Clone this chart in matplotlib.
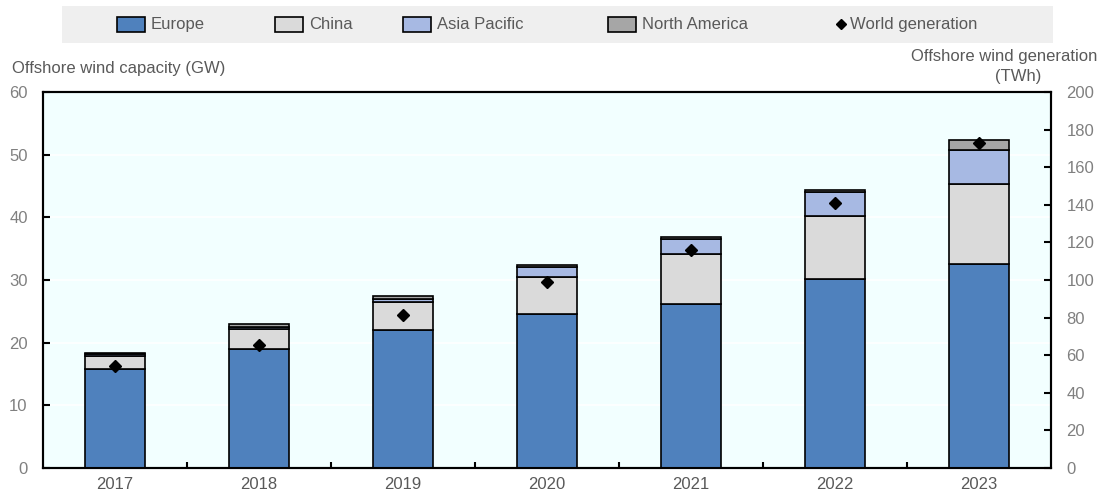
import matplotlib
matplotlib.use("Agg")
import matplotlib.pyplot as plt
from matplotlib.patches import Rectangle
from matplotlib.lines import Line2D
import numpy as np

plt.rcParams['font.family'] = ['Liberation Sans', 'DejaVu Sans']

years = ["2017", "2018", "2019", "2020", "2021", "2022", "2023"]
europe = [15.7, 19.0, 22.0, 24.5, 26.2, 30.2, 32.6]
china = [2.1, 3.1, 4.5, 6.0, 8.0, 10.0, 12.7]
asia_pacific = [0.3, 0.4, 0.5, 1.5, 2.3, 3.8, 5.4]
north_america = [0.3, 0.4, 0.5, 0.4, 0.4, 0.4, 1.6]
world_generation = [54.4, 65.6, 81.6, 98.8, 115.9, 141.2, 173.2]

series = [("Europe", europe, "#4F81BD"),
          ("China", china, "#DADADA"),
          ("Asia Pacific", asia_pacific, "#A7B9E3"),
          ("North America", north_america, "#A6A6A6")]

W, H = 1099, 494
fig = plt.figure(figsize=(W / 100, H / 100), dpi=100)
ax = fig.add_axes([43 / W, 26.3 / H, 1008 / W, 375.4 / H])
ax.set_facecolor("#F2FFFF")
x = np.arange(len(years))
bottom = np.zeros(len(years))
for name, vals, col in series:
    ax.bar(x, vals, 0.41, bottom=bottom, color=col, edgecolor="black", linewidth=1.2, zorder=3)
    bottom += np.array(vals)

ax.set_ylim(0, 60)
ax.set_xlim(-0.5, len(years) - 0.5)
ax.set_yticks(range(0, 61, 10))
ax.yaxis.grid(True, color="white", linewidth=1.2, zorder=0)
ax.set_xticks(x)
ax.set_xticklabels(years)
ax.set_xticks(np.arange(0.5, len(years) - 0.5, 1), minor=True)
ax.tick_params(axis="x", which="major", length=0, pad=7, colors="#595959", labelsize=12)
ax.tick_params(axis="x", which="minor", length=4, direction="in", width=1.5)
ax.tick_params(axis="y", direction="in", length=5, width=1.5, labelcolor="#808080", labelsize=12, pad=11)
for s in ax.spines.values():
    s.set_linewidth(1.5)

ax2 = ax.twinx()
ax2.set_ylim(0, 200)
ax2.set_yticks(range(0, 201, 20))
ax2.plot(x, world_generation, linestyle="none", marker="D", color="black", markersize=6.5, zorder=5)
ax2.tick_params(axis="y", direction="in", length=5, width=1.5, labelcolor="#808080", labelsize=12, pad=11)
for s in ax2.spines.values():
    s.set_linewidth(1.5)

def fx(px):
    return px / W

def fy(py):
    return 1 - py / H

fig.text(fx(12), fy(68), "Offshore wind capacity (GW)", fontsize=12, color="#595959", ha="left", va="center")
fig.text(fx(1097), fy(56), "Offshore wind generation", fontsize=12, color="#595959", ha="right", va="center")
fig.text(fx(1041), fy(76), "(TWh)", fontsize=12, color="#595959", ha="right", va="center")

# legend band
fig.patches.append(Rectangle((fx(62), fy(43)), fx(991), 37 / H, transform=fig.transFigure,
                             facecolor="#EFEFEF", edgecolor="none", zorder=0))
box_x = [117, 275, 403, 608]
for (name, _, col), bx in zip(series, box_x):
    fig.patches.append(Rectangle((fx(bx), fy(32)), fx(28), 15 / H, transform=fig.transFigure,
                                 facecolor=col, edgecolor="black", linewidth=1.2, zorder=2))
    fig.text(fx(bx + 34), fy(24.5), name, fontsize=12, color="#595959", ha="left", va="center")
fig.lines.append(Line2D([fx(841)], [fy(24.5)], transform=fig.transFigure, linestyle="none",
                        marker="D", color="black", markersize=5))
fig.text(fx(850), fy(24.5), "World generation", fontsize=12, color="#595959", ha="left", va="center")

fig.savefig("out.png", dpi=100, facecolor="white")
